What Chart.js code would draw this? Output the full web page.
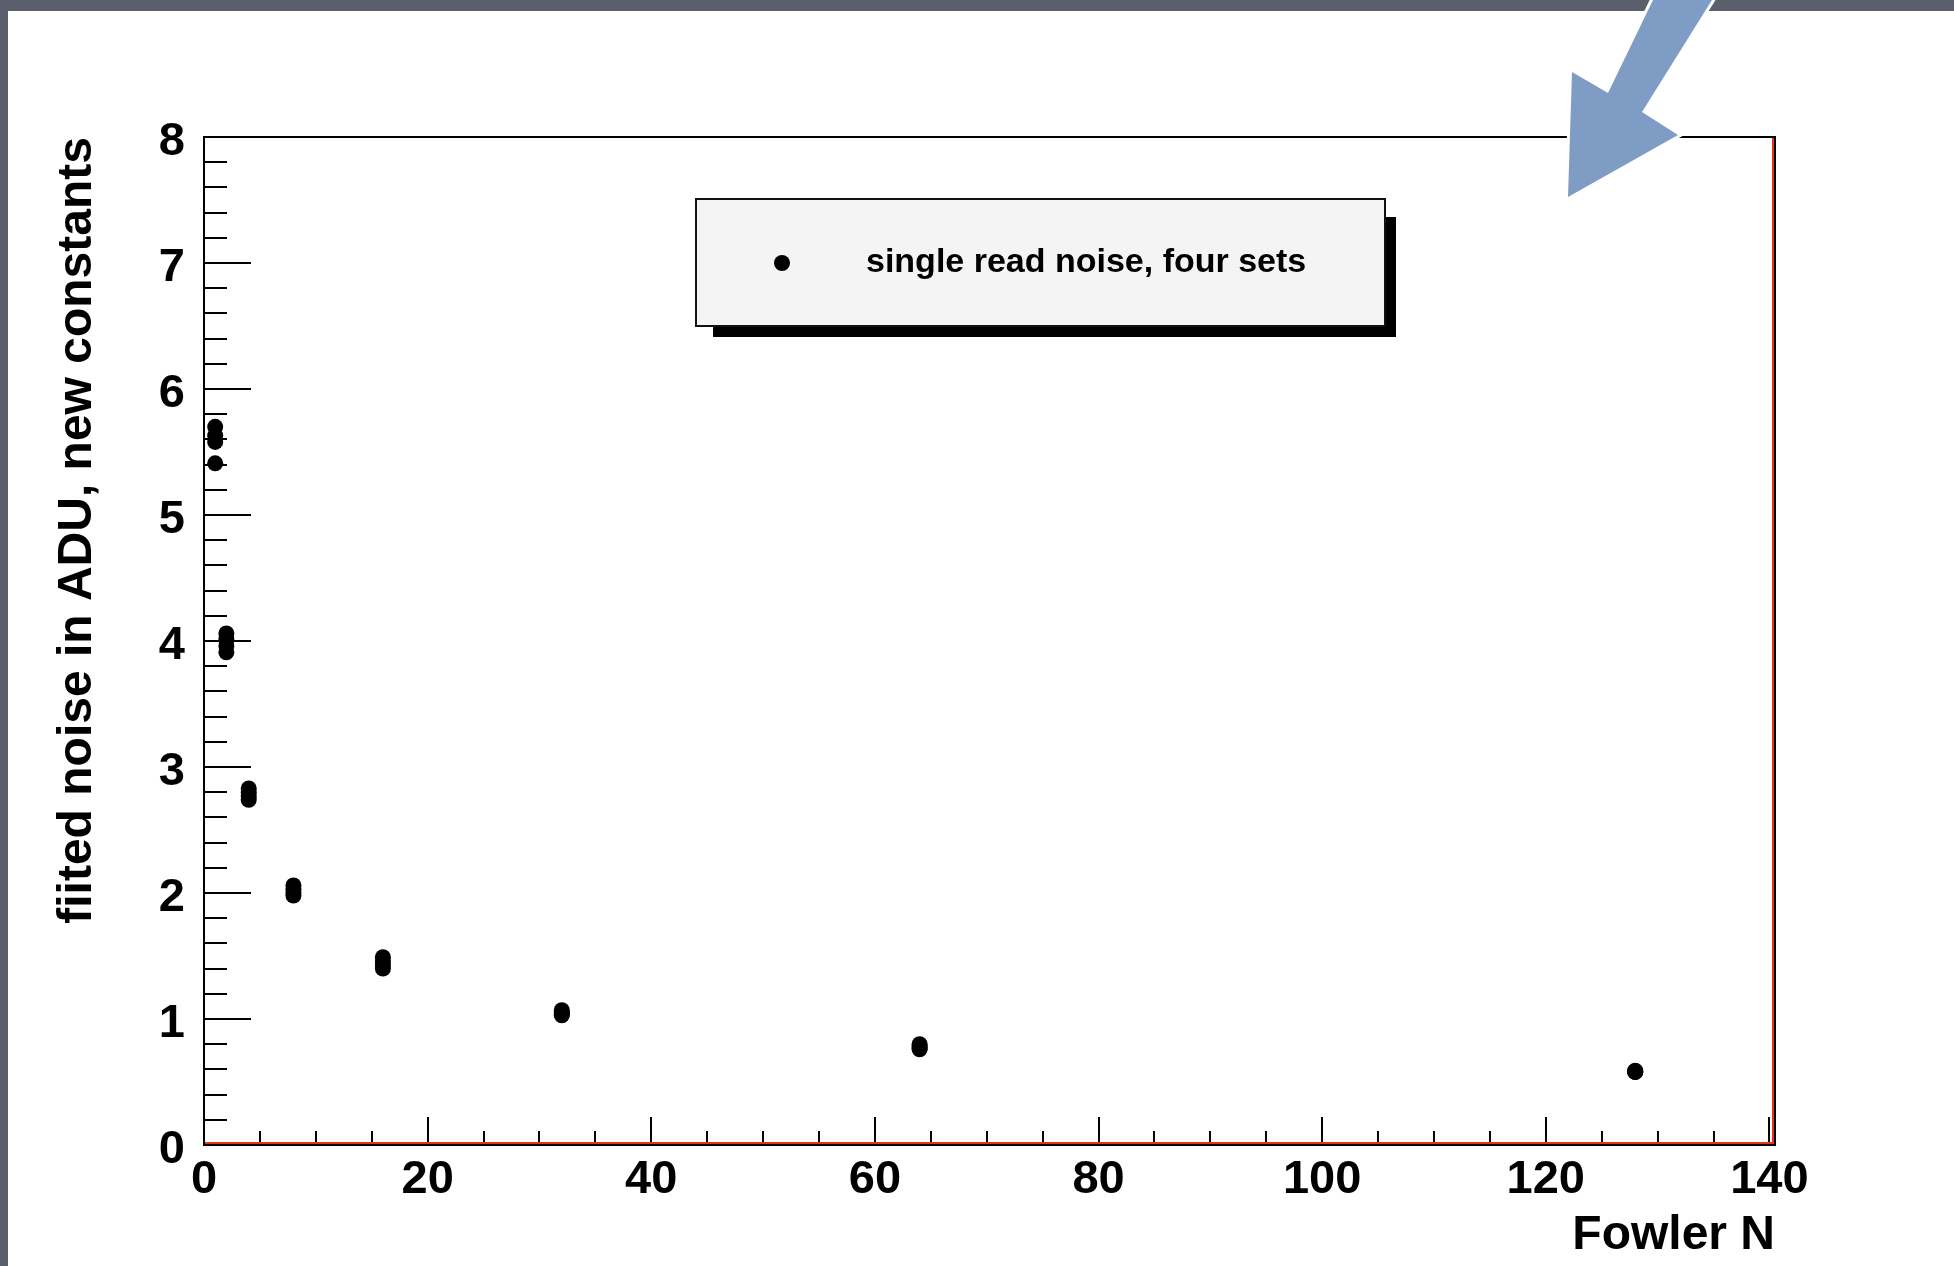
<!DOCTYPE html>
<html>
<head>
<meta charset="utf-8">
<title>Fowler N noise</title>
<script src="https://cdn.jsdelivr.net/npm/chart.js@4/dist/chart.umd.min.js"></script>
<style>
  html, body { margin: 0; padding: 0; background: #5b5f6b; }
  canvas { display: block; }
</style>
</head>
<body>
<canvas id="noiseChart" width="1954" height="1266"></canvas>
<script>
// Fowler N (количество чтений) и шум для четырёх наборов
var fowlerN = [1, 2, 4, 8, 16, 32, 64, 128];
var noiseSet1 = [5.70, 4.06, 2.83, 2.06, 1.49, 1.07, 0.80, 0.59];
var noiseSet2 = [5.63, 4.01, 2.80, 2.03, 1.46, 1.05, 0.78, 0.58];
var noiseSet3 = [5.58, 3.96, 2.77, 2.00, 1.43, 1.04, 0.77, 0.58];
var noiseSet4 = [5.41, 3.91, 2.74, 1.98, 1.40, 1.03, 0.76, 0.58];

var seriesLabel = 'single read noise, four sets';
var xTitle = 'Fowler N';
var yTitle = 'fiited noise in ADU, new constants';

var FONT = '"Liberation Sans", Arial, Helvetica, sans-serif';

// Собираем точки всех наборов в один ряд
var points = [];
[noiseSet1, noiseSet2, noiseSet3, noiseSet4].forEach(function(set) {
  set.forEach(function(v, i) {
    points.push({ x: fowlerN[i], y: v });
  });
});

function isMultiple(v, step) {
  var r = v / step;
  return Math.abs(r - Math.round(r)) < 1e-6;
}

// Фон страницы: серая рамка и белое поле
var backgroundPlugin = {
  id: 'pageBackground',
  beforeDraw: function(chart) {
    var ctx = chart.ctx;
    ctx.save();
    ctx.fillStyle = '#5b5f6b';
    ctx.fillRect(0, 0, chart.width, chart.height);
    ctx.fillStyle = '#ffffff';
    ctx.fillRect(8, 11, chart.width - 8, chart.height - 11);
    ctx.restore();
  }
};

// Внутренние засечки осей и рамка в стиле ROOT
var frameTicksPlugin = {
  id: 'frameTicks',
  beforeDatasetsDraw: function(chart) {
    var ctx = chart.ctx;
    var area = chart.chartArea;
    var xs = chart.scales.x;
    var ys = chart.scales.y;
    ctx.save();
    ctx.strokeStyle = '#000';
    ctx.lineWidth = 2;

    ys.ticks.forEach(function(t) {
      if (!isMultiple(t.value, 0.2)) return;
      var py = Math.round(ys.getPixelForValue(t.value));
      var len = isMultiple(t.value, 1) ? 47 : 23;
      ctx.beginPath();
      ctx.moveTo(area.left, py);
      ctx.lineTo(area.left + len, py);
      ctx.stroke();
    });

    xs.ticks.forEach(function(t) {
      if (!isMultiple(t.value, 5)) return;
      var px = Math.round(xs.getPixelForValue(t.value));
      var len = isMultiple(t.value, 20) ? 28 : 14;
      ctx.beginPath();
      ctx.moveTo(px, area.bottom);
      ctx.lineTo(px, area.bottom - len);
      ctx.stroke();
    });

    // красная линия гистограммы у нижней и правой стороны
    ctx.strokeStyle = '#e8321e';
    ctx.beginPath();
    ctx.moveTo(area.left, area.bottom - 2);
    ctx.lineTo(area.right - 2, area.bottom - 2);
    ctx.lineTo(area.right - 2, area.top);
    ctx.stroke();

    // рамка
    ctx.strokeStyle = '#000';
    ctx.strokeRect(area.left, area.top, area.right - area.left, area.bottom - area.top);
    ctx.restore();
  }
};

// Легенда с тенью и стрелка поверх графика
var legendArrowPlugin = {
  id: 'legendArrow',
  afterDraw: function(chart) {
    var ctx = chart.ctx;
    ctx.save();

    // тень
    ctx.fillStyle = '#000';
    ctx.fillRect(713, 217, 683, 120);
    // рамка легенды
    ctx.fillStyle = '#f4f4f4';
    ctx.fillRect(696, 199, 689, 127);
    ctx.strokeStyle = '#111';
    ctx.lineWidth = 2;
    ctx.strokeRect(696, 199, 689, 127);
    // маркер
    ctx.fillStyle = '#000';
    ctx.beginPath();
    ctx.arc(782, 263, 8, 0, Math.PI * 2);
    ctx.fill();
    // подпись
    ctx.font = 'bold 34px ' + FONT;
    ctx.textAlign = 'left';
    ctx.textBaseline = 'middle';
    ctx.fillText(chart.data.datasets[0].label, 866, 263);

    // стрелка
    var arrow = [[1653, 0], [1712, 0], [1642, 112], [1678, 135], [1568, 197], [1572, 72], [1608, 93]];
    ctx.beginPath();
    arrow.forEach(function(p, i) {
      if (i === 0) ctx.moveTo(p[0], p[1]); else ctx.lineTo(p[0], p[1]);
    });
    ctx.closePath();
    ctx.lineJoin = 'miter';
    ctx.strokeStyle = '#ffffff';
    ctx.lineWidth = 6;
    ctx.stroke();
    ctx.fillStyle = '#7f9cc4';
    ctx.fill();

    ctx.restore();
  }
};

var ctx = document.getElementById('noiseChart').getContext('2d');
var noiseChart = new Chart(ctx, {
  type: 'scatter',
  data: {
    datasets: [{
      label: seriesLabel,
      data: points,
      backgroundColor: '#000',
      borderColor: '#000',
      borderWidth: 0,
      pointRadius: 8,
      pointHoverRadius: 8
    }]
  },
  options: {
    responsive: false,
    animation: false,
    devicePixelRatio: 1,
    layout: {
      padding: { left: 0, top: 137, right: 179, bottom: 0 }
    },
    plugins: {
      legend: { display: false },
      tooltip: { enabled: false },
      title: { display: false }
    },
    scales: {
      x: {
        type: 'linear',
        min: 0,
        max: 140.5,
        grid: { display: false },
        border: { display: false },
        ticks: {
          stepSize: 5,
          includeBounds: false,
          autoSkip: false,
          maxRotation: 0,
          padding: -1,
          color: '#000',
          font: { family: FONT, size: 47, weight: 'bold' },
          callback: function(v) {
            return isMultiple(v, 20) ? String(Math.round(v)) : '';
          }
        },
        title: {
          display: true,
          text: xTitle,
          align: 'end',
          color: '#000',
          font: { family: FONT, size: 48, weight: 'bold' },
          padding: { top: 0, bottom: 1 }
        },
        afterFit: function(scale) { scale.height = 121; }
      },
      y: {
        type: 'linear',
        min: 0,
        max: 8,
        grid: { display: false },
        border: { display: false },
        ticks: {
          stepSize: 0.2,
          autoSkip: false,
          padding: 11,
          labelOffset: 5,
          color: '#000',
          font: { family: FONT, size: 47, weight: 'bold' },
          callback: function(v) {
            return isMultiple(v, 1) ? String(Math.round(v)) : '';
          }
        },
        title: {
          display: true,
          text: yTitle,
          align: 'end',
          color: '#000',
          font: { family: FONT, size: 48, weight: 'bold' },
          padding: { top: 49, bottom: 0 }
        },
        afterFit: function(scale) { scale.width = 204; }
      }
    }
  },
  plugins: [backgroundPlugin, frameTicksPlugin, legendArrowPlugin]
});
</script>
</body>
</html>
